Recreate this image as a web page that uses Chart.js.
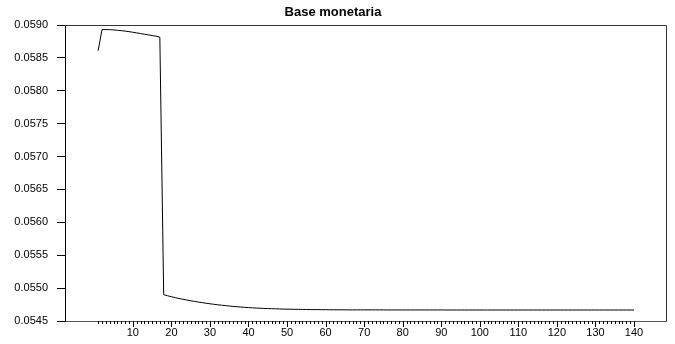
<!DOCTYPE html>
<html>
<head>
<meta charset="utf-8">
<title>Base monetaria</title>
<script src="https://cdn.jsdelivr.net/npm/chart.js@4/dist/chart.umd.min.js"></script>
<style>
    html, body { margin: 0; padding: 0; background: #ffffff; }
    #wrap { width: 675px; height: 344px; position: relative; }
</style>
</head>
<body>
<div id="wrap"><canvas id="baseChart"></canvas></div>
<script>
const chartTitle = 'Base monetaria';

const baseValues = [
    0.058610, 0.058930, 0.058930, 0.058929, 0.058925, 0.058920, 0.058914, 0.058907, 0.058899, 0.058890,
    0.058880, 0.058870, 0.058860, 0.058850, 0.058840, 0.058830, 0.058815, 0.054900, 0.054884, 0.054869,
    0.054855, 0.054842, 0.054830, 0.054819, 0.054808, 0.054798, 0.054788, 0.054779, 0.054770, 0.054762,
    0.054754, 0.054747, 0.054740, 0.054734, 0.054728, 0.054722, 0.054717, 0.054712, 0.054708, 0.054704,
    0.054700, 0.054697, 0.054694, 0.054691, 0.054689, 0.054687, 0.054685, 0.054683, 0.054681, 0.054680,
    0.054679, 0.054678, 0.054677, 0.054676, 0.054675, 0.054674, 0.054673, 0.054673, 0.054672, 0.054672,
    0.054671, 0.054671, 0.054670, 0.054670, 0.054670, 0.054669, 0.054669, 0.054669, 0.054669, 0.054669,
    0.054669, 0.054669, 0.054669, 0.054669, 0.054669, 0.054668, 0.054668, 0.054668, 0.054668, 0.054668,
    0.054668, 0.054668, 0.054668, 0.054668, 0.054668, 0.054668, 0.054668, 0.054668, 0.054668, 0.054668,
    0.054667, 0.054667, 0.054667, 0.054667, 0.054667, 0.054667, 0.054667, 0.054667, 0.054667, 0.054667,
    0.054667, 0.054667, 0.054667, 0.054667, 0.054667, 0.054667, 0.054667, 0.054667, 0.054667, 0.054667,
    0.054667, 0.054667, 0.054667, 0.054667, 0.054667, 0.054667, 0.054667, 0.054667, 0.054667, 0.054667,
    0.054667, 0.054667, 0.054667, 0.054667, 0.054667, 0.054667, 0.054667, 0.054667, 0.054667, 0.054667,
    0.054667, 0.054667, 0.054667, 0.054667, 0.054667, 0.054667, 0.054667, 0.054667, 0.054667, 0.054667
];

// x axis: labelled every 10 from 10 to 140, small ticks on every observation
const xLabelStep = 10;
const xFirstLabel = 10;
const xLastLabel = 140;

// y axis ticks
const yMin = 0.0545;
const yMax = 0.0590;
const yStep = 0.0005;

// observation numbers start at 1
const points = baseValues.map((v, i) => ({ x: i + 1, y: v }));

Chart.defaults.font.family = '"Liberation Sans", Arial, sans-serif';
Chart.defaults.color = '#000000';

// frame round the plot + small ticks under the x axis
const framePlugin = {
    id: 'frame',
    afterDraw(chart) {
        const ctx = chart.ctx;
        const area = chart.chartArea;
        const xScale = chart.scales.x;
        ctx.save();
        ctx.strokeStyle = '#333333';
        ctx.lineWidth = 1;
        ctx.beginPath();
        ctx.moveTo(area.left, area.top + 0.5);
        ctx.lineTo(area.right + 0.5, area.top + 0.5);
        ctx.lineTo(area.right + 0.5, area.bottom);
        ctx.stroke();

        // one tick per observation, longer where there is a label
        ctx.strokeStyle = '#000000';
        ctx.beginPath();
        points.forEach((p) => {
            const px = Math.round(xScale.getPixelForValue(p.x)) + 0.5;
            const len = (p.x % xLabelStep === 0) ? 6 : 3;
            ctx.moveTo(px, area.bottom);
            ctx.lineTo(px, area.bottom + len);
        });
        ctx.stroke();
        ctx.restore();
    }
};

const ctx = document.getElementById('baseChart').getContext('2d');

window.baseChart = new Chart(ctx, {
    type: 'line',
    data: {
        datasets: [{
            label: chartTitle,
            data: points,
            borderColor: '#000000',
            borderWidth: 1,
            pointRadius: 0,
            tension: 0,
            fill: false,
        }],
    },
    options: {
        responsive: true,
        maintainAspectRatio: false,
        animation: false,
        devicePixelRatio: 1,
        layout: {
            padding: { left: 0, right: 9, top: 0, bottom: 0 },
        },
        plugins: {
            legend: { display: false },
            tooltip: { enabled: false },
            title: {
                display: true,
                text: chartTitle,
                color: '#000000',
                font: { size: 13, weight: 'bold' },
                padding: { top: 5, bottom: 4.4 },
            },
        },
        scales: {
            x: {
                type: 'linear',
                min: -7.6,
                max: 148.3,
                grid: { display: false, drawTicks: false },
                border: { display: true, color: '#555555', width: 1 },
                ticks: {
                    stepSize: xLabelStep,
                    includeBounds: false,
                    autoSkip: false,
                    maxRotation: 0,
                    padding: 5.5,
                    font: { size: 11 },
                    color: '#000000',
                    callback: (value) => {
                        if (value >= xFirstLabel && value <= xLastLabel && value % xLabelStep === 0) {
                            return String(value);
                        }
                        return '';
                    },
                },
                afterFit: (scale) => { scale.height = 23; },
            },
            y: {
                min: yMin,
                max: yMax,
                grid: {
                    display: true,
                    drawOnChartArea: false,
                    drawTicks: true,
                    tickLength: 8,
                    color: '#000000',
                },
                border: { display: true, color: '#000000', width: 1 },
                ticks: {
                    stepSize: yStep,
                    padding: 9,
                    font: { size: 11 },
                    color: '#000000',
                    callback: (value) => Number(value).toFixed(4),
                },
                afterFit: (scale) => { scale.width = 65; },
            },
        },
    },
    plugins: [framePlugin],
});
</script>
</body>
</html>
